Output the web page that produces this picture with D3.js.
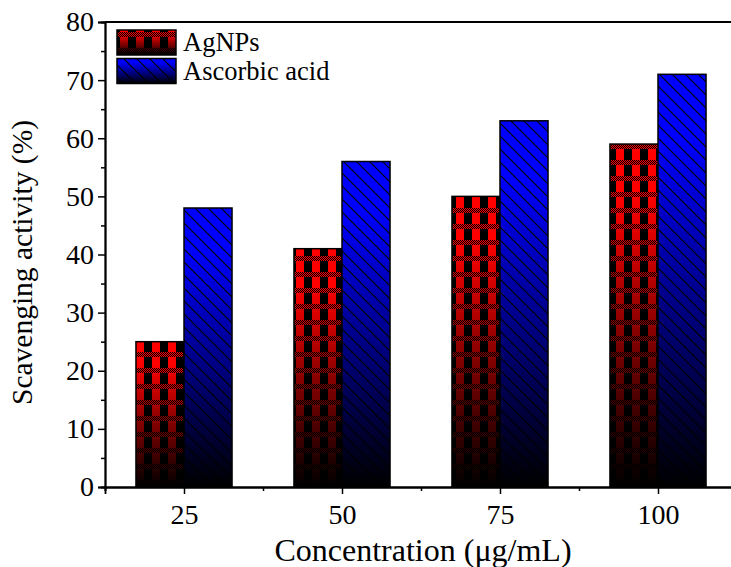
<!DOCTYPE html>
<html><head><meta charset="utf-8">
<script src="https://cdn.jsdelivr.net/npm/d3@7/dist/d3.min.js"></script>
<style>body{margin:0;background:#fff}svg{display:block}svg text{font-family:"Liberation Serif","Times New Roman",serif !important}</style>
</head><body>
<script>
const categories = [25, 50, 75, 100];
const agnps = [25, 41, 50, 59];
const ascorbic = [48, 56, 63, 71];
const seriesNames = ["AgNPs", "Ascorbic acid"];
const yTicks = [0, 10, 20, 30, 40, 50, 60, 70, 80];
const yMinor = [5, 15, 25, 35, 45, 55, 65, 75];
const xMinor = [12.5, 37.5, 62.5, 87.5];

const W = 731, H = 567;
const svg = d3.select("body").append("svg").attr("width", W).attr("height", H);
const font = "Liberation Serif";

const x = d3.scaleLinear().domain([12.5, 112.5]).range([105, 737]);
const y = d3.scaleLinear().domain([0, 80]).range([487, 22]);
const bw = 7.6;

const defs = svg.append("defs");
function grad(id, c) {
  const g = defs.append("linearGradient").attr("id", id).attr("x1", 0).attr("y1", 0).attr("x2", 0).attr("y2", 1);
  g.append("stop").attr("offset", 0).attr("stop-color", c);
  g.append("stop").attr("offset", 0.15).attr("stop-color", c);
  g.append("stop").attr("offset", 1).attr("stop-color", "#000");
}
grad("gRed", "#ff0000");
grad("gBlue", "#0000ff");

// checker pattern for AgNPs
const pc = defs.append("pattern").attr("id", "pCheck").attr("patternUnits", "userSpaceOnUse")
  .attr("width", 16).attr("height", 16);
for (let i = 0; i < 8; i++) {
  pc.append("rect").attr("x", i * 2).attr("y", 0).attr("width", 1).attr("height", 1).attr("fill", "#000");
  pc.append("rect").attr("x", i * 2 + 1).attr("y", 1).attr("width", 1).attr("height", 1).attr("fill", "#000");
  pc.append("rect").attr("x", i * 2).attr("y", 2).attr("width", 1).attr("height", 1).attr("fill", "#000");
  pc.append("rect").attr("x", i * 2 + 1).attr("y", 3).attr("width", 1).attr("height", 1).attr("fill", "#000");
  pc.append("rect").attr("x", i * 2).attr("y", 4).attr("width", 1).attr("height", 1).attr("fill", "#000");
}
pc.append("rect").attr("x", 0).attr("y", 5).attr("width", 8).attr("height", 11).attr("fill", "#000");

// diagonal hatch for Ascorbic
const ph = defs.append("pattern").attr("id", "pHatch").attr("patternUnits", "userSpaceOnUse")
  .attr("width", 13).attr("height", 13);
ph.append("path").attr("d", "M-1,-1 L14,14 M-1,12 L1,14 M12,-1 L14,1").attr("stroke", "#000").attr("stroke-width", 1.1);

const fills = [["url(#gRed)", "url(#pCheck)"], ["url(#gBlue)", "url(#pHatch)"]];
const data = [agnps, ascorbic];

// bars
data.forEach((vals, si) => {
  const g = svg.append("g");
  vals.forEach((v, i) => {
    const c = categories[i];
    const x0 = si === 0 ? x(c - bw) : x(c);
    const x1 = si === 0 ? x(c) : x(c + bw);
    g.append("rect").attr("x", x0).attr("y", y(v)).attr("width", x1 - x0).attr("height", y(0) - y(v))
      .attr("fill", fills[si][0]);
    g.append("rect").attr("x", x0).attr("y", y(v)).attr("width", x1 - x0).attr("height", y(0) - y(v))
      .attr("fill", fills[si][1]).attr("stroke", "#000").attr("stroke-width", 1.5);
  });
});

// axes
const yAxis = svg.append("g").attr("transform", `translate(${x(12.5)},0)`)
  .call(d3.axisLeft(y).tickValues(yTicks).tickSize(7).tickPadding(4).tickFormat(d3.format("d")));
const yAxisMinor = svg.append("g").attr("transform", `translate(${x(12.5)},0)`)
  .call(d3.axisLeft(y).tickValues(yMinor).tickSize(4).tickFormat(""));
const xAxis = svg.append("g").attr("transform", `translate(0,${y(0)})`)
  .call(d3.axisBottom(x).tickValues(categories).tickSize(7).tickPadding(10).tickFormat(d3.format("d")));
const xAxisMinor = svg.append("g").attr("transform", `translate(0,${y(0)})`)
  .call(d3.axisBottom(x).tickValues(xMinor).tickSize(4).tickFormat(""));
[yAxis, yAxisMinor, xAxis, xAxisMinor].forEach(a => {
  a.attr("font-family", font).attr("font-size", 28);
  a.select(".domain").attr("stroke", "#000").attr("stroke-width", 1.8);
  a.selectAll(".tick line").attr("stroke", "#000").attr("stroke-width", 1.5);
  a.selectAll("text").attr("fill", "#000");
});
// top & right frame
svg.append("line").attr("x1", x(12.5)).attr("x2", x(112.5)).attr("y1", y(80)).attr("y2", y(80))
  .attr("stroke", "#000").attr("stroke-width", 1.8);
svg.append("line").attr("x1", x(112.5)).attr("x2", x(112.5)).attr("y1", y(80)).attr("y2", y(0))
  .attr("stroke", "#000").attr("stroke-width", 1.8);

// axis titles
svg.append("text").attr("transform", `translate(32,${(y(0) + y(80)) / 2 + 8}) rotate(-90)`)
  .attr("text-anchor", "middle").attr("font-family", font).attr("font-size", 29.5)
  .text("Scavenging activity (%)");
svg.append("text").attr("x", 423).attr("y", 561).attr("text-anchor", "middle")
  .attr("font-family", font).attr("font-size", 32).text("Concentration (\u03bcg/mL)");

// legend
const lg = svg.append("g");
seriesNames.forEach((n, i) => {
  const yy = 30 + i * 28.5;
  lg.append("rect").attr("x", 117).attr("y", yy).attr("width", 59).attr("height", 25).attr("fill", fills[i][0]);
  lg.append("rect").attr("x", 117).attr("y", yy).attr("width", 59).attr("height", 25).attr("fill", fills[i][1])
    .attr("stroke", "#000").attr("stroke-width", 1.5);
  lg.append("text").attr("x", 183).attr("y", yy + 21).attr("font-family", font).attr("font-size", 26.5).text(n);
});
</script>
</body></html>
